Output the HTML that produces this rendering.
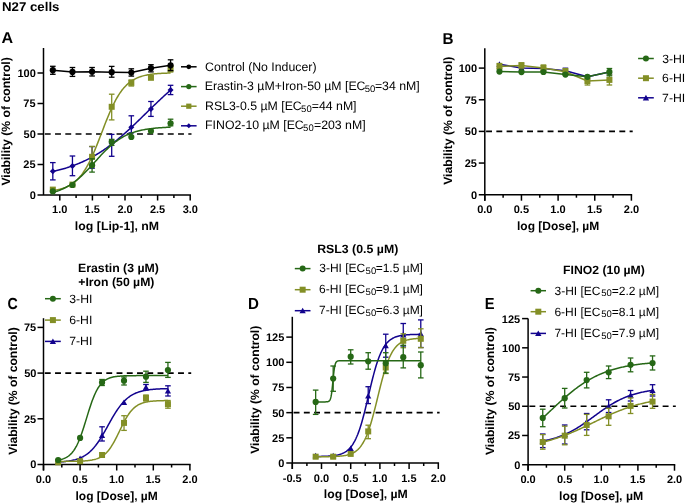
<!DOCTYPE html>
<html><head><meta charset="utf-8"><title>N27 cells</title>
<style>html,body{margin:0;padding:0;background:#fff;}body{width:685px;height:504px;overflow:hidden;font-family:"Liberation Sans",sans-serif;}svg{display:block;will-change:transform;}</style>
</head><body>
<svg width="685" height="504" viewBox="0 0 685 504" text-rendering="geometricPrecision" font-family="Liberation Sans, sans-serif">
<text x="1.94" y="10.7" font-size="12.7" font-weight="bold" textLength="57.51" lengthAdjust="spacingAndGlyphs" fill="#000">N27 cells</text>
<text x="1.5" y="43" font-size="15.8" font-weight="bold" textLength="11.64" lengthAdjust="spacingAndGlyphs" fill="#000">A</text>
<text x="442.61" y="44" font-size="15.8" font-weight="bold" textLength="11.01" lengthAdjust="spacingAndGlyphs" fill="#000">B</text>
<text x="7.43" y="309.4" font-size="16" font-weight="bold" textLength="10.25" lengthAdjust="spacingAndGlyphs" fill="#000">C</text>
<text x="248.02" y="309.4" font-size="16" font-weight="bold" textLength="10.92" lengthAdjust="spacingAndGlyphs" fill="#000">D</text>
<text x="484.65" y="309.4" font-size="16" font-weight="bold" textLength="9.8" lengthAdjust="spacingAndGlyphs" fill="#000">E</text>
<line x1="43.5" y1="48" x2="43.5" y2="195" stroke="#000000" stroke-width="1.5"/>
<line x1="37.5" y1="195" x2="190.95" y2="195" stroke="#000000" stroke-width="1.5"/>
<text x="29.63" y="198.91" font-size="11" font-weight="bold" fill="#000">0</text>
<line x1="37.5" y1="164.5" x2="43.5" y2="164.5" stroke="#000000" stroke-width="1.5"/>
<text x="23.36" y="168.41" font-size="11" font-weight="bold" fill="#000">25</text>
<line x1="37.5" y1="134" x2="43.5" y2="134" stroke="#000000" stroke-width="1.5"/>
<text x="23.53" y="137.91" font-size="11" font-weight="bold" fill="#000">50</text>
<line x1="37.5" y1="103.5" x2="43.5" y2="103.5" stroke="#000000" stroke-width="1.5"/>
<text x="23.36" y="107.41" font-size="11" font-weight="bold" fill="#000">75</text>
<line x1="37.5" y1="73" x2="43.5" y2="73" stroke="#000000" stroke-width="1.5"/>
<text x="17.42" y="76.91" font-size="11" font-weight="bold" fill="#000">100</text>
<line x1="59.8" y1="195" x2="59.8" y2="200.5" stroke="#000000" stroke-width="1.5"/>
<text x="52.02" y="213.4" font-size="11" font-weight="bold" fill="#000">1.0</text>
<line x1="92.4" y1="195" x2="92.4" y2="200.5" stroke="#000000" stroke-width="1.5"/>
<text x="84.53" y="213.4" font-size="11" font-weight="bold" fill="#000">1.5</text>
<line x1="125" y1="195" x2="125" y2="200.5" stroke="#000000" stroke-width="1.5"/>
<text x="117.38" y="213.4" font-size="11" font-weight="bold" fill="#000">2.0</text>
<line x1="157.6" y1="195" x2="157.6" y2="200.5" stroke="#000000" stroke-width="1.5"/>
<text x="149.9" y="213.4" font-size="11" font-weight="bold" fill="#000">2.5</text>
<line x1="190.2" y1="195" x2="190.2" y2="200.5" stroke="#000000" stroke-width="1.5"/>
<text x="182.64" y="213.4" font-size="11" font-weight="bold" fill="#000">3.0</text>
<line x1="76.1" y1="195" x2="76.1" y2="198" stroke="#000000" stroke-width="1.5"/>
<line x1="108.7" y1="195" x2="108.7" y2="198" stroke="#000000" stroke-width="1.5"/>
<line x1="141.3" y1="195" x2="141.3" y2="198" stroke="#000000" stroke-width="1.5"/>
<line x1="173.9" y1="195" x2="173.9" y2="198" stroke="#000000" stroke-width="1.5"/>
<text x="74.89" y="230.1" font-size="12" font-weight="bold" textLength="84.18" lengthAdjust="spacingAndGlyphs" fill="#000">log [Lip-1], nM</text>
<text transform="translate(9.8,185.62) rotate(-90)" font-size="12" font-weight="bold" textLength="128.4" lengthAdjust="spacingAndGlyphs" fill="#000">Viability (% of control)</text>
<line x1="44.8" y1="134" x2="191.5" y2="134" stroke="#000000" stroke-width="1.7" stroke-dasharray="5.9 4.35"/>
<line x1="52.82" y1="162.6" x2="52.82" y2="179.9" stroke="#12038e" stroke-width="1.3"/>
<line x1="50.02" y1="162.6" x2="55.62" y2="162.6" stroke="#12038e" stroke-width="1.3"/>
<line x1="50.02" y1="179.9" x2="55.62" y2="179.9" stroke="#12038e" stroke-width="1.3"/>
<line x1="72.45" y1="156" x2="72.45" y2="175.7" stroke="#12038e" stroke-width="1.3"/>
<line x1="69.65" y1="156" x2="75.25" y2="156" stroke="#12038e" stroke-width="1.3"/>
<line x1="69.65" y1="175.7" x2="75.25" y2="175.7" stroke="#12038e" stroke-width="1.3"/>
<line x1="92.07" y1="146.6" x2="92.07" y2="168.2" stroke="#12038e" stroke-width="1.3"/>
<line x1="89.27" y1="146.6" x2="94.87" y2="146.6" stroke="#12038e" stroke-width="1.3"/>
<line x1="89.27" y1="168.2" x2="94.87" y2="168.2" stroke="#12038e" stroke-width="1.3"/>
<line x1="111.7" y1="134.4" x2="111.7" y2="156.3" stroke="#12038e" stroke-width="1.3"/>
<line x1="108.9" y1="134.4" x2="114.5" y2="134.4" stroke="#12038e" stroke-width="1.3"/>
<line x1="108.9" y1="156.3" x2="114.5" y2="156.3" stroke="#12038e" stroke-width="1.3"/>
<line x1="131.32" y1="115.8" x2="131.32" y2="132.8" stroke="#12038e" stroke-width="1.3"/>
<line x1="128.52" y1="115.8" x2="134.12" y2="115.8" stroke="#12038e" stroke-width="1.3"/>
<line x1="128.52" y1="132.8" x2="134.12" y2="132.8" stroke="#12038e" stroke-width="1.3"/>
<line x1="150.95" y1="101.5" x2="150.95" y2="116.4" stroke="#12038e" stroke-width="1.3"/>
<line x1="148.15" y1="101.5" x2="153.75" y2="101.5" stroke="#12038e" stroke-width="1.3"/>
<line x1="148.15" y1="116.4" x2="153.75" y2="116.4" stroke="#12038e" stroke-width="1.3"/>
<line x1="170.57" y1="85.3" x2="170.57" y2="94.6" stroke="#12038e" stroke-width="1.3"/>
<line x1="167.77" y1="85.3" x2="173.37" y2="85.3" stroke="#12038e" stroke-width="1.3"/>
<line x1="167.77" y1="94.6" x2="173.37" y2="94.6" stroke="#12038e" stroke-width="1.3"/>
<polyline points="52.82,171.47 53.8,171.26 54.79,171.03 55.77,170.8 56.75,170.57 57.73,170.32 58.71,170.08 59.69,169.82 60.67,169.56 61.65,169.29 62.64,169.02 63.62,168.74 64.6,168.45 65.58,168.16 66.56,167.86 67.54,167.55 68.52,167.23 69.51,166.91 70.49,166.58 71.47,166.24 72.45,165.89 73.43,165.53 74.41,165.17 75.39,164.8 76.37,164.42 77.36,164.03 78.34,163.63 79.32,163.22 80.3,162.81 81.28,162.38 82.26,161.95 83.24,161.5 84.22,161.05 85.21,160.59 86.19,160.11 87.17,159.63 88.15,159.14 89.13,158.64 90.11,158.12 91.09,157.6 92.07,157.07 93.06,156.52 94.04,155.97 95.02,155.41 96,154.83 96.98,154.25 97.96,153.65 98.94,153.04 99.92,152.43 100.91,151.8 101.89,151.16 102.87,150.51 103.85,149.85 104.83,149.18 105.81,148.5 106.79,147.81 107.77,147.1 108.76,146.39 109.74,145.67 110.72,144.93 111.7,144.19 112.68,143.43 113.66,142.67 114.64,141.89 115.62,141.11 116.61,140.32 117.59,139.51 118.57,138.7 119.55,137.88 120.53,137.05 121.51,136.21 122.49,135.36 123.47,134.5 124.46,133.64 125.44,132.77 126.42,131.89 127.4,131 128.38,130.1 129.36,129.2 130.34,128.3 131.32,127.38 132.31,126.46 133.29,125.54 134.27,124.61 135.25,123.68 136.23,122.74 137.21,121.8 138.19,120.85 139.17,119.9 140.16,118.95 141.14,118 142.12,117.04 143.1,116.08 144.08,115.12 145.06,114.16 146.04,113.2 147.02,112.24 148.01,111.28 148.99,110.32 149.97,109.37 150.95,108.41 151.93,107.46 152.91,106.5 153.89,105.55 154.87,104.61 155.86,103.67 156.84,102.73 157.82,101.79 158.8,100.86 159.78,99.94 160.76,99.02 161.74,98.1 162.72,97.2 163.71,96.3 164.69,95.4 165.67,94.51 166.65,93.63 167.63,92.76 168.61,91.89 169.59,91.04 170.57,90.19" fill="none" stroke="#12038e" stroke-width="1.5" stroke-linejoin="round"/>
<path d="M52.82,168.2 L55.82,171.2 L52.82,174.2 L49.82,171.2 Z" fill="#12038e"/>
<path d="M72.45,163 L75.45,166 L72.45,169 L69.45,166 Z" fill="#12038e"/>
<path d="M92.07,154.8 L95.07,157.8 L92.07,160.8 L89.07,157.8 Z" fill="#12038e"/>
<path d="M111.7,140.5 L114.7,143.5 L111.7,146.5 L108.7,143.5 Z" fill="#12038e"/>
<path d="M131.32,124.2 L134.32,127.2 L131.32,130.2 L128.32,127.2 Z" fill="#12038e"/>
<path d="M150.95,105.9 L153.95,108.9 L150.95,111.9 L147.95,108.9 Z" fill="#12038e"/>
<path d="M170.57,87 L173.57,90 L170.57,93 L167.57,90 Z" fill="#12038e"/>
<line x1="92.07" y1="146.4" x2="92.07" y2="167" stroke="#838f26" stroke-width="1.3"/>
<line x1="89.27" y1="146.4" x2="94.87" y2="146.4" stroke="#838f26" stroke-width="1.3"/>
<line x1="89.27" y1="167" x2="94.87" y2="167" stroke="#838f26" stroke-width="1.3"/>
<line x1="111.7" y1="94.2" x2="111.7" y2="119.9" stroke="#838f26" stroke-width="1.3"/>
<line x1="108.9" y1="94.2" x2="114.5" y2="94.2" stroke="#838f26" stroke-width="1.3"/>
<line x1="108.9" y1="119.9" x2="114.5" y2="119.9" stroke="#838f26" stroke-width="1.3"/>
<line x1="131.32" y1="80" x2="131.32" y2="86" stroke="#838f26" stroke-width="1.3"/>
<line x1="128.52" y1="80" x2="134.12" y2="80" stroke="#838f26" stroke-width="1.3"/>
<line x1="128.52" y1="86" x2="134.12" y2="86" stroke="#838f26" stroke-width="1.3"/>
<line x1="170.57" y1="66" x2="170.57" y2="72" stroke="#838f26" stroke-width="1.3"/>
<line x1="167.77" y1="66" x2="173.37" y2="66" stroke="#838f26" stroke-width="1.3"/>
<line x1="167.77" y1="72" x2="173.37" y2="72" stroke="#838f26" stroke-width="1.3"/>
<polyline points="52.82,190.53 53.8,190.39 54.79,190.23 55.77,190.06 56.75,189.88 57.73,189.68 58.71,189.46 59.69,189.23 60.67,188.97 61.65,188.69 62.64,188.39 63.62,188.07 64.6,187.71 65.58,187.33 66.56,186.92 67.54,186.47 68.52,185.99 69.51,185.46 70.49,184.9 71.47,184.29 72.45,183.64 73.43,182.94 74.41,182.18 75.39,181.36 76.37,180.49 77.36,179.56 78.34,178.56 79.32,177.49 80.3,176.35 81.28,175.13 82.26,173.84 83.24,172.47 84.22,171.02 85.21,169.49 86.19,167.87 87.17,166.17 88.15,164.38 89.13,162.51 90.11,160.56 91.09,158.53 92.07,156.42 93.06,154.23 94.04,151.98 95.02,149.66 96,147.28 96.98,144.86 97.96,142.39 98.94,139.88 99.92,137.35 100.91,134.8 101.89,132.24 102.87,129.68 103.85,127.13 104.83,124.6 105.81,122.1 106.79,119.63 107.77,117.21 108.76,114.85 109.74,112.54 110.72,110.3 111.7,108.12 112.68,106.03 113.66,104.01 114.64,102.07 115.62,100.21 116.61,98.44 117.59,96.75 118.57,95.14 119.55,93.62 120.53,92.19 121.51,90.83 122.49,89.55 123.47,88.35 124.46,87.22 125.44,86.16 126.42,85.17 127.4,84.25 128.38,83.39 129.36,82.58 130.34,81.83 131.32,81.14 132.31,80.49 133.29,79.89 134.27,79.34 135.25,78.82 136.23,78.34 137.21,77.9 138.19,77.49 139.17,77.11 140.16,76.77 141.14,76.44 142.12,76.15 143.1,75.87 144.08,75.62 145.06,75.39 146.04,75.17 147.02,74.98 148.01,74.79 148.99,74.63 149.97,74.47 150.95,74.33 151.93,74.2 152.91,74.08 153.89,73.97 154.87,73.87 155.86,73.78 156.84,73.69 157.82,73.61 158.8,73.54 159.78,73.47 160.76,73.41 161.74,73.35 162.72,73.3 163.71,73.26 164.69,73.21 165.67,73.17 166.65,73.14 167.63,73.1 168.61,73.07 169.59,73.04 170.57,73.02" fill="none" stroke="#838f26" stroke-width="1.5" stroke-linejoin="round"/>
<rect x="49.82" y="186.6" width="6" height="6" fill="#838f26"/>
<rect x="69.45" y="181.6" width="6" height="6" fill="#838f26"/>
<rect x="89.07" y="153.8" width="6" height="6" fill="#838f26"/>
<rect x="108.7" y="103.8" width="6" height="6" fill="#838f26"/>
<rect x="128.32" y="79.8" width="6" height="6" fill="#838f26"/>
<rect x="147.95" y="74.8" width="6" height="6" fill="#838f26"/>
<rect x="167.57" y="65.8" width="6" height="6" fill="#838f26"/>
<line x1="92.07" y1="158.8" x2="92.07" y2="172.1" stroke="#266816" stroke-width="1.3"/>
<line x1="89.27" y1="158.8" x2="94.87" y2="158.8" stroke="#266816" stroke-width="1.3"/>
<line x1="89.27" y1="172.1" x2="94.87" y2="172.1" stroke="#266816" stroke-width="1.3"/>
<line x1="111.7" y1="139.4" x2="111.7" y2="145.4" stroke="#266816" stroke-width="1.3"/>
<line x1="108.9" y1="139.4" x2="114.5" y2="139.4" stroke="#266816" stroke-width="1.3"/>
<line x1="108.9" y1="145.4" x2="114.5" y2="145.4" stroke="#266816" stroke-width="1.3"/>
<line x1="170.57" y1="119.2" x2="170.57" y2="125.8" stroke="#266816" stroke-width="1.3"/>
<line x1="167.77" y1="119.2" x2="173.37" y2="119.2" stroke="#266816" stroke-width="1.3"/>
<line x1="167.77" y1="125.8" x2="173.37" y2="125.8" stroke="#266816" stroke-width="1.3"/>
<polyline points="52.82,192.49 53.8,192.21 54.79,191.92 55.77,191.61 56.75,191.29 57.73,190.94 58.71,190.59 59.69,190.21 60.67,189.81 61.65,189.4 62.64,188.96 63.62,188.5 64.6,188.02 65.58,187.52 66.56,186.99 67.54,186.44 68.52,185.87 69.51,185.28 70.49,184.65 71.47,184.01 72.45,183.33 73.43,182.64 74.41,181.91 75.39,181.16 76.37,180.39 77.36,179.59 78.34,178.76 79.32,177.91 80.3,177.04 81.28,176.14 82.26,175.22 83.24,174.28 84.22,173.32 85.21,172.34 86.19,171.34 87.17,170.32 88.15,169.29 89.13,168.25 90.11,167.19 91.09,166.12 92.07,165.05 93.06,163.97 94.04,162.89 95.02,161.8 96,160.72 96.98,159.63 97.96,158.55 98.94,157.48 99.92,156.42 100.91,155.36 101.89,154.32 102.87,153.29 103.85,152.28 104.83,151.28 105.81,150.3 106.79,149.34 107.77,148.41 108.76,147.49 109.74,146.6 110.72,145.72 111.7,144.88 112.68,144.06 113.66,143.26 114.64,142.49 115.62,141.74 116.61,141.03 117.59,140.33 118.57,139.66 119.55,139.02 120.53,138.4 121.51,137.81 122.49,137.24 123.47,136.7 124.46,136.17 125.44,135.68 126.42,135.2 127.4,134.74 128.38,134.31 129.36,133.9 130.34,133.5 131.32,133.13 132.31,132.77 133.29,132.43 134.27,132.11 135.25,131.81 136.23,131.52 137.21,131.24 138.19,130.98 139.17,130.73 140.16,130.5 141.14,130.28 142.12,130.07 143.1,129.87 144.08,129.68 145.06,129.5 146.04,129.34 147.02,129.18 148.01,129.03 148.99,128.89 149.97,128.75 150.95,128.63 151.93,128.51 152.91,128.4 153.89,128.29 154.87,128.19 155.86,128.1 156.84,128.01 157.82,127.92 158.8,127.85 159.78,127.77 160.76,127.7 161.74,127.64 162.72,127.57 163.71,127.52 164.69,127.46 165.67,127.41 166.65,127.36 167.63,127.31 168.61,127.27 169.59,127.23 170.57,127.19" fill="none" stroke="#266816" stroke-width="1.5" stroke-linejoin="round"/>
<circle cx="52.82" cy="191.4" r="3.1" fill="#266816"/>
<circle cx="72.45" cy="185" r="3.1" fill="#266816"/>
<circle cx="92.07" cy="165.2" r="3.1" fill="#266816"/>
<circle cx="111.7" cy="141.8" r="3.1" fill="#266816"/>
<circle cx="131.32" cy="137" r="3.1" fill="#266816"/>
<circle cx="150.95" cy="131" r="3.1" fill="#266816"/>
<circle cx="170.57" cy="123.3" r="3.1" fill="#266816"/>
<line x1="52.82" y1="66.3" x2="52.82" y2="74.3" stroke="#000000" stroke-width="1.3"/>
<line x1="50.02" y1="66.3" x2="55.62" y2="66.3" stroke="#000000" stroke-width="1.3"/>
<line x1="50.02" y1="74.3" x2="55.62" y2="74.3" stroke="#000000" stroke-width="1.3"/>
<line x1="72.45" y1="67.5" x2="72.45" y2="76.4" stroke="#000000" stroke-width="1.3"/>
<line x1="69.65" y1="67.5" x2="75.25" y2="67.5" stroke="#000000" stroke-width="1.3"/>
<line x1="69.65" y1="76.4" x2="75.25" y2="76.4" stroke="#000000" stroke-width="1.3"/>
<line x1="92.07" y1="67.5" x2="92.07" y2="76" stroke="#000000" stroke-width="1.3"/>
<line x1="89.27" y1="67.5" x2="94.87" y2="67.5" stroke="#000000" stroke-width="1.3"/>
<line x1="89.27" y1="76" x2="94.87" y2="76" stroke="#000000" stroke-width="1.3"/>
<line x1="111.7" y1="66.4" x2="111.7" y2="77.2" stroke="#000000" stroke-width="1.3"/>
<line x1="108.9" y1="66.4" x2="114.5" y2="66.4" stroke="#000000" stroke-width="1.3"/>
<line x1="108.9" y1="77.2" x2="114.5" y2="77.2" stroke="#000000" stroke-width="1.3"/>
<line x1="131.32" y1="68.8" x2="131.32" y2="76.1" stroke="#000000" stroke-width="1.3"/>
<line x1="128.52" y1="68.8" x2="134.12" y2="68.8" stroke="#000000" stroke-width="1.3"/>
<line x1="128.52" y1="76.1" x2="134.12" y2="76.1" stroke="#000000" stroke-width="1.3"/>
<line x1="150.95" y1="64.7" x2="150.95" y2="71.9" stroke="#000000" stroke-width="1.3"/>
<line x1="148.15" y1="64.7" x2="153.75" y2="64.7" stroke="#000000" stroke-width="1.3"/>
<line x1="148.15" y1="71.9" x2="153.75" y2="71.9" stroke="#000000" stroke-width="1.3"/>
<line x1="170.57" y1="59.8" x2="170.57" y2="70.6" stroke="#000000" stroke-width="1.3"/>
<line x1="167.77" y1="59.8" x2="173.37" y2="59.8" stroke="#000000" stroke-width="1.3"/>
<line x1="167.77" y1="70.6" x2="173.37" y2="70.6" stroke="#000000" stroke-width="1.3"/>
<polyline points="52.82,70.2 72.45,71.9 92.07,71.7 111.7,72.2 131.32,72.6 150.95,68.2 170.57,65.3" fill="none" stroke="#000000" stroke-width="1.5" stroke-linejoin="round"/>
<circle cx="52.82" cy="70.2" r="3.1" fill="#000000"/>
<circle cx="72.45" cy="71.9" r="3.1" fill="#000000"/>
<circle cx="92.07" cy="71.7" r="3.1" fill="#000000"/>
<circle cx="111.7" cy="72.2" r="3.1" fill="#000000"/>
<circle cx="131.32" cy="72.6" r="3.1" fill="#000000"/>
<circle cx="150.95" cy="68.2" r="3.1" fill="#000000"/>
<circle cx="170.57" cy="65.3" r="3.1" fill="#000000"/>
<line x1="181" y1="66.8" x2="196.6" y2="66.8" stroke="#000000" stroke-width="1.5"/>
<circle cx="188.8" cy="66.8" r="2.4" fill="#000000"/>
<line x1="181" y1="86.6" x2="196.6" y2="86.6" stroke="#266816" stroke-width="1.5"/>
<circle cx="188.8" cy="86.6" r="2.6" fill="#266816"/>
<line x1="181" y1="106.2" x2="196.6" y2="106.2" stroke="#838f26" stroke-width="1.5"/>
<rect x="186.2" y="103.6" width="5.2" height="5.2" fill="#838f26"/>
<line x1="181" y1="125.8" x2="196.6" y2="125.8" stroke="#12038e" stroke-width="1.5"/>
<path d="M188.8,123.3 L191.3,125.8 L188.8,128.3 L186.3,125.8 Z" fill="#12038e"/>
<text x="205.08" y="70.7" font-size="12.3" fill="#000">Control (No Inducer)</text>
<text x="204.72" y="90.2" font-size="12.3" fill="#000">Erastin-3 µM+Iron-50 µM [EC</text>
<text x="364.72" y="92.4" font-size="9.5" fill="#000">50</text>
<text x="374.88" y="90.2" font-size="12.3" fill="#000">=34 nM]</text>
<text x="205.12" y="109.7" font-size="12.3" fill="#000">RSL3-0.5 µM [EC</text>
<text x="301.12" y="111.9" font-size="9.5" fill="#000">50</text>
<text x="311.78" y="109.7" font-size="12.3" fill="#000">=44 nM]</text>
<text x="205.12" y="128.8" font-size="12.3" fill="#000">FINO2-10 µM [EC</text>
<text x="303.12" y="131" font-size="9.5" fill="#000">50</text>
<text x="313.99" y="128.8" font-size="12.3" fill="#000">=203 nM]</text>
<line x1="484.8" y1="48.2" x2="484.8" y2="200.7" stroke="#000000" stroke-width="1.5"/>
<line x1="478.8" y1="194.7" x2="632.15" y2="194.7" stroke="#000000" stroke-width="1.5"/>
<text x="470.94" y="198.6" font-size="11" font-weight="bold" fill="#000">0</text>
<line x1="478.8" y1="163.05" x2="484.8" y2="163.05" stroke="#000000" stroke-width="1.5"/>
<text x="464.67" y="166.95" font-size="11" font-weight="bold" fill="#000">25</text>
<line x1="478.8" y1="131.4" x2="484.8" y2="131.4" stroke="#000000" stroke-width="1.5"/>
<text x="464.83" y="135.3" font-size="11" font-weight="bold" fill="#000">50</text>
<line x1="478.8" y1="99.75" x2="484.8" y2="99.75" stroke="#000000" stroke-width="1.5"/>
<text x="464.67" y="103.65" font-size="11" font-weight="bold" fill="#000">75</text>
<line x1="478.8" y1="68.1" x2="484.8" y2="68.1" stroke="#000000" stroke-width="1.5"/>
<text x="458.73" y="72" font-size="11" font-weight="bold" fill="#000">100</text>
<line x1="484.8" y1="194.7" x2="484.8" y2="200.7" stroke="#000000" stroke-width="1.5"/>
<text x="477.16" y="213.2" font-size="11" font-weight="bold" fill="#000">0.0</text>
<line x1="521.45" y1="194.7" x2="521.45" y2="200.7" stroke="#000000" stroke-width="1.5"/>
<text x="513.72" y="213.2" font-size="11" font-weight="bold" fill="#000">0.5</text>
<line x1="558.1" y1="194.7" x2="558.1" y2="200.7" stroke="#000000" stroke-width="1.5"/>
<text x="550.32" y="213.2" font-size="11" font-weight="bold" fill="#000">1.0</text>
<line x1="594.75" y1="194.7" x2="594.75" y2="200.7" stroke="#000000" stroke-width="1.5"/>
<text x="586.88" y="213.2" font-size="11" font-weight="bold" fill="#000">1.5</text>
<line x1="631.4" y1="194.7" x2="631.4" y2="200.7" stroke="#000000" stroke-width="1.5"/>
<text x="623.78" y="213.2" font-size="11" font-weight="bold" fill="#000">2.0</text>
<line x1="503.12" y1="194.7" x2="503.12" y2="197.7" stroke="#000000" stroke-width="1.5"/>
<line x1="539.77" y1="194.7" x2="539.77" y2="197.7" stroke="#000000" stroke-width="1.5"/>
<line x1="576.42" y1="194.7" x2="576.42" y2="197.7" stroke="#000000" stroke-width="1.5"/>
<line x1="613.08" y1="194.7" x2="613.08" y2="197.7" stroke="#000000" stroke-width="1.5"/>
<text x="516.97" y="230.1" font-size="12" font-weight="bold" fill="#000">log [Dose], µM</text>
<text transform="translate(451.7,184.82) rotate(-90)" font-size="12" font-weight="bold" textLength="128.2" lengthAdjust="spacingAndGlyphs" fill="#000">Viability (% of control)</text>
<line x1="486.1" y1="131.4" x2="632.7" y2="131.4" stroke="#000000" stroke-width="1.7" stroke-dasharray="5.9 4.35"/>
<line x1="565.43" y1="68.2" x2="565.43" y2="73.4" stroke="#12038e" stroke-width="1.3"/>
<line x1="562.63" y1="68.2" x2="568.23" y2="68.2" stroke="#12038e" stroke-width="1.3"/>
<line x1="562.63" y1="73.4" x2="568.23" y2="73.4" stroke="#12038e" stroke-width="1.3"/>
<polyline points="499.46,64.2 521.45,68 543.44,68.6 565.43,70.8 587.42,76.7 609.41,72" fill="none" stroke="#12038e" stroke-width="1.5" stroke-linejoin="round"/>
<path d="M499.46,61.24 L502.56,66.82 L496.36,66.82 Z" fill="#12038e"/>
<path d="M521.45,65.04 L524.55,70.62 L518.35,70.62 Z" fill="#12038e"/>
<path d="M543.44,65.64 L546.54,71.22 L540.34,71.22 Z" fill="#12038e"/>
<path d="M565.43,67.84 L568.53,73.42 L562.33,73.42 Z" fill="#12038e"/>
<path d="M587.42,73.74 L590.52,79.32 L584.32,79.32 Z" fill="#12038e"/>
<path d="M609.41,69.04 L612.51,74.62 L606.31,74.62 Z" fill="#12038e"/>
<line x1="499.46" y1="63.5" x2="499.46" y2="69" stroke="#838f26" stroke-width="1.3"/>
<line x1="496.66" y1="63.5" x2="502.26" y2="63.5" stroke="#838f26" stroke-width="1.3"/>
<line x1="496.66" y1="69" x2="502.26" y2="69" stroke="#838f26" stroke-width="1.3"/>
<line x1="521.45" y1="62.8" x2="521.45" y2="68" stroke="#838f26" stroke-width="1.3"/>
<line x1="518.65" y1="62.8" x2="524.25" y2="62.8" stroke="#838f26" stroke-width="1.3"/>
<line x1="518.65" y1="68" x2="524.25" y2="68" stroke="#838f26" stroke-width="1.3"/>
<line x1="543.44" y1="65" x2="543.44" y2="70.8" stroke="#838f26" stroke-width="1.3"/>
<line x1="540.64" y1="65" x2="546.24" y2="65" stroke="#838f26" stroke-width="1.3"/>
<line x1="540.64" y1="70.8" x2="546.24" y2="70.8" stroke="#838f26" stroke-width="1.3"/>
<line x1="565.43" y1="68.6" x2="565.43" y2="75" stroke="#838f26" stroke-width="1.3"/>
<line x1="562.63" y1="68.6" x2="568.23" y2="68.6" stroke="#838f26" stroke-width="1.3"/>
<line x1="562.63" y1="75" x2="568.23" y2="75" stroke="#838f26" stroke-width="1.3"/>
<line x1="587.42" y1="77" x2="587.42" y2="85" stroke="#838f26" stroke-width="1.3"/>
<line x1="584.62" y1="77" x2="590.22" y2="77" stroke="#838f26" stroke-width="1.3"/>
<line x1="584.62" y1="85" x2="590.22" y2="85" stroke="#838f26" stroke-width="1.3"/>
<line x1="609.41" y1="75" x2="609.41" y2="85" stroke="#838f26" stroke-width="1.3"/>
<line x1="606.61" y1="75" x2="612.21" y2="75" stroke="#838f26" stroke-width="1.3"/>
<line x1="606.61" y1="85" x2="612.21" y2="85" stroke="#838f26" stroke-width="1.3"/>
<polyline points="499.46,66.4 521.45,65.4 543.44,67.9 565.43,71.8 587.42,81 609.41,79.9" fill="none" stroke="#838f26" stroke-width="1.5" stroke-linejoin="round"/>
<rect x="496.46" y="63.4" width="6" height="6" fill="#838f26"/>
<rect x="518.45" y="62.4" width="6" height="6" fill="#838f26"/>
<rect x="540.44" y="64.9" width="6" height="6" fill="#838f26"/>
<rect x="562.43" y="68.8" width="6" height="6" fill="#838f26"/>
<rect x="584.42" y="78" width="6" height="6" fill="#838f26"/>
<rect x="606.41" y="76.9" width="6" height="6" fill="#838f26"/>
<line x1="609.41" y1="68.5" x2="609.41" y2="75.8" stroke="#266816" stroke-width="1.3"/>
<line x1="606.61" y1="68.5" x2="612.21" y2="68.5" stroke="#266816" stroke-width="1.3"/>
<line x1="606.61" y1="75.8" x2="612.21" y2="75.8" stroke="#266816" stroke-width="1.3"/>
<polyline points="499.46,71.6 521.45,72.1 543.44,72 565.43,74.6 587.42,76.8 609.41,71.9" fill="none" stroke="#266816" stroke-width="1.5" stroke-linejoin="round"/>
<circle cx="499.46" cy="71.6" r="3.1" fill="#266816"/>
<circle cx="521.45" cy="72.1" r="3.1" fill="#266816"/>
<circle cx="543.44" cy="72" r="3.1" fill="#266816"/>
<circle cx="565.43" cy="74.6" r="3.1" fill="#266816"/>
<circle cx="587.42" cy="76.8" r="3.1" fill="#266816"/>
<circle cx="609.41" cy="71.9" r="3.1" fill="#266816"/>
<line x1="638.1" y1="58.5" x2="653.8" y2="58.5" stroke="#266816" stroke-width="1.5"/>
<circle cx="645.95" cy="58.5" r="3" fill="#266816"/>
<line x1="638.1" y1="78.2" x2="653.8" y2="78.2" stroke="#838f26" stroke-width="1.5"/>
<rect x="642.95" y="75.2" width="6" height="6" fill="#838f26"/>
<line x1="638.1" y1="97.8" x2="653.8" y2="97.8" stroke="#12038e" stroke-width="1.5"/>
<path d="M645.95,94.79 L649.1,100.46 L642.8,100.46 Z" fill="#12038e"/>
<text x="662.21" y="62.6" font-size="12" textLength="23.04" lengthAdjust="spacingAndGlyphs" fill="#000">3-HI</text>
<text x="662.09" y="82.3" font-size="12" textLength="23.17" lengthAdjust="spacingAndGlyphs" fill="#000">6-HI</text>
<text x="662.09" y="101.9" font-size="12" textLength="23.17" lengthAdjust="spacingAndGlyphs" fill="#000">7-HI</text>
<line x1="43.5" y1="318.2" x2="43.5" y2="470.5" stroke="#000000" stroke-width="1.5"/>
<line x1="37.5" y1="464.5" x2="190.65" y2="464.5" stroke="#000000" stroke-width="1.5"/>
<text x="30.23" y="468.4" font-size="11" font-weight="bold" fill="#000">0</text>
<line x1="37.5" y1="418.8" x2="43.5" y2="418.8" stroke="#000000" stroke-width="1.5"/>
<text x="23.96" y="422.7" font-size="11" font-weight="bold" fill="#000">25</text>
<line x1="37.5" y1="373.1" x2="43.5" y2="373.1" stroke="#000000" stroke-width="1.5"/>
<text x="24.13" y="377" font-size="11" font-weight="bold" fill="#000">50</text>
<line x1="37.5" y1="327.4" x2="43.5" y2="327.4" stroke="#000000" stroke-width="1.5"/>
<text x="23.96" y="331.3" font-size="11" font-weight="bold" fill="#000">75</text>
<line x1="43.5" y1="464.5" x2="43.5" y2="470.5" stroke="#000000" stroke-width="1.5"/>
<text x="35.86" y="483" font-size="11" font-weight="bold" fill="#000">0.0</text>
<line x1="80.1" y1="464.5" x2="80.1" y2="470.5" stroke="#000000" stroke-width="1.5"/>
<text x="72.37" y="483" font-size="11" font-weight="bold" fill="#000">0.5</text>
<line x1="116.7" y1="464.5" x2="116.7" y2="470.5" stroke="#000000" stroke-width="1.5"/>
<text x="108.92" y="483" font-size="11" font-weight="bold" fill="#000">1.0</text>
<line x1="153.3" y1="464.5" x2="153.3" y2="470.5" stroke="#000000" stroke-width="1.5"/>
<text x="145.44" y="483" font-size="11" font-weight="bold" fill="#000">1.5</text>
<line x1="189.9" y1="464.5" x2="189.9" y2="470.5" stroke="#000000" stroke-width="1.5"/>
<text x="182.28" y="483" font-size="11" font-weight="bold" fill="#000">2.0</text>
<line x1="61.8" y1="464.5" x2="61.8" y2="467.5" stroke="#000000" stroke-width="1.5"/>
<line x1="98.4" y1="464.5" x2="98.4" y2="467.5" stroke="#000000" stroke-width="1.5"/>
<line x1="135" y1="464.5" x2="135" y2="467.5" stroke="#000000" stroke-width="1.5"/>
<line x1="171.6" y1="464.5" x2="171.6" y2="467.5" stroke="#000000" stroke-width="1.5"/>
<text x="75.47" y="500" font-size="12" font-weight="bold" fill="#000">log [Dose], µM</text>
<text transform="translate(16.5,454.72) rotate(-90)" font-size="12" font-weight="bold" textLength="127.4" lengthAdjust="spacingAndGlyphs" fill="#000">Viability (% of control)</text>
<text x="78" y="271.8" font-size="12" font-weight="bold" textLength="80.88" lengthAdjust="spacingAndGlyphs" fill="#000">Erastin (3 µM)</text>
<text x="78.31" y="285.7" font-size="12" font-weight="bold" textLength="76.15" lengthAdjust="spacingAndGlyphs" fill="#000">+Iron (50 µM)</text>
<line x1="44.8" y1="373.1" x2="191.2" y2="373.1" stroke="#000000" stroke-width="1.7" stroke-dasharray="5.9 4.35"/>
<line x1="102.06" y1="426.8" x2="102.06" y2="441" stroke="#12038e" stroke-width="1.3"/>
<line x1="99.26" y1="426.8" x2="104.86" y2="426.8" stroke="#12038e" stroke-width="1.3"/>
<line x1="99.26" y1="441" x2="104.86" y2="441" stroke="#12038e" stroke-width="1.3"/>
<line x1="145.98" y1="384.5" x2="145.98" y2="390" stroke="#12038e" stroke-width="1.3"/>
<line x1="143.18" y1="384.5" x2="148.78" y2="384.5" stroke="#12038e" stroke-width="1.3"/>
<line x1="143.18" y1="390" x2="148.78" y2="390" stroke="#12038e" stroke-width="1.3"/>
<line x1="167.94" y1="385.8" x2="167.94" y2="396" stroke="#12038e" stroke-width="1.3"/>
<line x1="165.14" y1="385.8" x2="170.74" y2="385.8" stroke="#12038e" stroke-width="1.3"/>
<line x1="165.14" y1="396" x2="170.74" y2="396" stroke="#12038e" stroke-width="1.3"/>
<polyline points="58.14,462.06 59.05,462.01 59.97,461.95 60.89,461.89 61.8,461.82 62.72,461.74 63.63,461.66 64.55,461.57 65.46,461.47 66.38,461.36 67.29,461.25 68.2,461.12 69.12,460.98 70.03,460.83 70.95,460.67 71.87,460.49 72.78,460.3 73.69,460.09 74.61,459.86 75.53,459.61 76.44,459.34 77.36,459.05 78.27,458.73 79.19,458.39 80.1,458.02 81.02,457.62 81.93,457.18 82.84,456.72 83.76,456.22 84.68,455.67 85.59,455.09 86.5,454.47 87.42,453.8 88.34,453.08 89.25,452.32 90.16,451.5 91.08,450.63 92,449.71 92.91,448.74 93.83,447.7 94.74,446.61 95.66,445.47 96.57,444.27 97.49,443.01 98.4,441.7 99.31,440.34 100.23,438.93 101.15,437.47 102.06,435.97 102.97,434.44 103.89,432.87 104.8,431.27 105.72,429.65 106.64,428.01 107.55,426.37 108.47,424.72 109.38,423.07 110.3,421.44 111.21,419.82 112.12,418.22 113.04,416.65 113.95,415.11 114.87,413.61 115.79,412.16 116.7,410.74 117.61,409.38 118.53,408.07 119.45,406.82 120.36,405.61 121.28,404.47 122.19,403.38 123.1,402.34 124.02,401.37 124.94,400.44 125.85,399.58 126.77,398.76 127.68,397.99 128.6,397.28 129.51,396.61 130.43,395.98 131.34,395.4 132.25,394.86 133.17,394.35 134.09,393.89 135,393.45 135.92,393.05 136.83,392.68 137.75,392.34 138.66,392.02 139.57,391.73 140.49,391.46 141.41,391.21 142.32,390.98 143.24,390.77 144.15,390.58 145.06,390.4 145.98,390.24 146.89,390.08 147.81,389.95 148.73,389.82 149.64,389.7 150.56,389.6 151.47,389.5 152.38,389.41 153.3,389.32 154.22,389.25 155.13,389.18 156.05,389.12 156.96,389.06 157.88,389 158.79,388.95 159.7,388.91 160.62,388.87 161.54,388.83 162.45,388.8 163.37,388.76 164.28,388.74 165.19,388.71 166.11,388.69 167.03,388.66 167.94,388.64" fill="none" stroke="#12038e" stroke-width="1.5" stroke-linejoin="round"/>
<path d="M58.14,458.84 L61.24,464.42 L55.04,464.42 Z" fill="#12038e"/>
<path d="M80.1,455.54 L83.2,461.12 L77,461.12 Z" fill="#12038e"/>
<path d="M102.06,432.54 L105.16,438.12 L98.96,438.12 Z" fill="#12038e"/>
<path d="M124.02,399.44 L127.12,405.02 L120.92,405.02 Z" fill="#12038e"/>
<path d="M145.98,384.24 L149.08,389.82 L142.88,389.82 Z" fill="#12038e"/>
<path d="M167.94,387.94 L171.04,393.52 L164.84,393.52 Z" fill="#12038e"/>
<line x1="124.02" y1="415.7" x2="124.02" y2="430.4" stroke="#838f26" stroke-width="1.3"/>
<line x1="121.22" y1="415.7" x2="126.82" y2="415.7" stroke="#838f26" stroke-width="1.3"/>
<line x1="121.22" y1="430.4" x2="126.82" y2="430.4" stroke="#838f26" stroke-width="1.3"/>
<line x1="145.98" y1="395" x2="145.98" y2="401" stroke="#838f26" stroke-width="1.3"/>
<line x1="143.18" y1="395" x2="148.78" y2="395" stroke="#838f26" stroke-width="1.3"/>
<line x1="143.18" y1="401" x2="148.78" y2="401" stroke="#838f26" stroke-width="1.3"/>
<line x1="167.94" y1="400.5" x2="167.94" y2="408.2" stroke="#838f26" stroke-width="1.3"/>
<line x1="165.14" y1="400.5" x2="170.74" y2="400.5" stroke="#838f26" stroke-width="1.3"/>
<line x1="165.14" y1="408.2" x2="170.74" y2="408.2" stroke="#838f26" stroke-width="1.3"/>
<polyline points="58.14,461.4 59.05,461.4 59.97,461.4 60.89,461.39 61.8,461.39 62.72,461.39 63.63,461.38 64.55,461.38 65.46,461.38 66.38,461.37 67.29,461.37 68.2,461.36 69.12,461.35 70.03,461.34 70.95,461.33 71.87,461.32 72.78,461.31 73.69,461.3 74.61,461.28 75.53,461.26 76.44,461.24 77.36,461.22 78.27,461.2 79.19,461.17 80.1,461.13 81.02,461.1 81.93,461.05 82.84,461.01 83.76,460.95 84.68,460.89 85.59,460.82 86.5,460.75 87.42,460.66 88.34,460.56 89.25,460.45 90.16,460.32 91.08,460.18 92,460.02 92.91,459.84 93.83,459.64 94.74,459.41 95.66,459.16 96.57,458.87 97.49,458.55 98.4,458.19 99.31,457.78 100.23,457.33 101.15,456.83 102.06,456.28 102.97,455.66 103.89,454.98 104.8,454.23 105.72,453.4 106.64,452.49 107.55,451.5 108.47,450.42 109.38,449.25 110.3,448 111.21,446.65 112.12,445.21 113.04,443.69 113.95,442.08 114.87,440.4 115.79,438.66 116.7,436.86 117.61,435.01 118.53,433.13 119.45,431.24 120.36,429.34 121.28,427.46 122.19,425.6 123.1,423.79 124.02,422.02 124.94,420.32 125.85,418.69 126.77,417.14 127.68,415.68 128.6,414.3 129.51,413.02 130.43,411.82 131.34,410.72 132.25,409.7 133.17,408.77 134.09,407.91 135,407.14 135.92,406.43 136.83,405.8 137.75,405.22 138.66,404.7 139.57,404.24 140.49,403.82 141.41,403.45 142.32,403.12 143.24,402.82 144.15,402.55 145.06,402.32 145.98,402.11 146.89,401.92 147.81,401.75 148.73,401.61 149.64,401.48 150.56,401.36 151.47,401.26 152.38,401.17 153.3,401.09 154.22,401.02 155.13,400.95 156.05,400.9 156.96,400.85 157.88,400.8 158.79,400.77 159.7,400.73 160.62,400.7 161.54,400.67 162.45,400.65 163.37,400.63 164.28,400.61 165.19,400.6 166.11,400.58 167.03,400.57 167.94,400.56" fill="none" stroke="#838f26" stroke-width="1.5" stroke-linejoin="round"/>
<rect x="55.14" y="459.3" width="6" height="6" fill="#838f26"/>
<rect x="77.1" y="458.2" width="6" height="6" fill="#838f26"/>
<rect x="99.06" y="452" width="6" height="6" fill="#838f26"/>
<rect x="121.02" y="419.9" width="6" height="6" fill="#838f26"/>
<rect x="142.98" y="395" width="6" height="6" fill="#838f26"/>
<rect x="164.94" y="401.1" width="6" height="6" fill="#838f26"/>
<line x1="102.06" y1="379.5" x2="102.06" y2="385.5" stroke="#266816" stroke-width="1.3"/>
<line x1="99.26" y1="379.5" x2="104.86" y2="379.5" stroke="#266816" stroke-width="1.3"/>
<line x1="99.26" y1="385.5" x2="104.86" y2="385.5" stroke="#266816" stroke-width="1.3"/>
<line x1="124.02" y1="377" x2="124.02" y2="385" stroke="#266816" stroke-width="1.3"/>
<line x1="121.22" y1="377" x2="126.82" y2="377" stroke="#266816" stroke-width="1.3"/>
<line x1="121.22" y1="385" x2="126.82" y2="385" stroke="#266816" stroke-width="1.3"/>
<line x1="145.98" y1="371.2" x2="145.98" y2="382.4" stroke="#266816" stroke-width="1.3"/>
<line x1="143.18" y1="371.2" x2="148.78" y2="371.2" stroke="#266816" stroke-width="1.3"/>
<line x1="143.18" y1="382.4" x2="148.78" y2="382.4" stroke="#266816" stroke-width="1.3"/>
<line x1="167.94" y1="362.4" x2="167.94" y2="377.4" stroke="#266816" stroke-width="1.3"/>
<line x1="165.14" y1="362.4" x2="170.74" y2="362.4" stroke="#266816" stroke-width="1.3"/>
<line x1="165.14" y1="377.4" x2="170.74" y2="377.4" stroke="#266816" stroke-width="1.3"/>
<polyline points="58.14,460.04 59.05,459.88 59.97,459.69 60.89,459.48 61.8,459.24 62.72,458.96 63.63,458.64 64.55,458.28 65.46,457.87 66.38,457.39 67.29,456.86 68.2,456.25 69.12,455.56 70.03,454.79 70.95,453.91 71.87,452.93 72.78,451.83 73.69,450.6 74.61,449.24 75.53,447.73 76.44,446.06 77.36,444.24 78.27,442.26 79.19,440.12 80.1,437.82 81.02,435.36 81.93,432.77 82.84,430.05 83.76,427.23 84.68,424.32 85.59,421.36 86.5,418.36 87.42,415.37 88.34,412.4 89.25,409.5 90.16,406.67 91.08,403.95 92,401.36 92.91,398.91 93.83,396.6 94.74,394.46 95.66,392.48 96.57,390.66 97.49,389 98.4,387.48 99.31,386.12 100.23,384.89 101.15,383.79 102.06,382.81 102.97,381.93 103.89,381.16 104.8,380.47 105.72,379.86 106.64,379.33 107.55,378.86 108.47,378.44 109.38,378.08 110.3,377.76 111.21,377.48 112.12,377.24 113.04,377.03 113.95,376.84 114.87,376.68 115.79,376.54 116.7,376.41 117.61,376.31 118.53,376.21 119.45,376.13 120.36,376.06 121.28,376 122.19,375.94 123.1,375.9 124.02,375.86 124.94,375.82 125.85,375.79 126.77,375.76 127.68,375.74 128.6,375.72 129.51,375.7 130.43,375.69 131.34,375.67 132.25,375.66 133.17,375.65 134.09,375.64 135,375.63 135.92,375.63 136.83,375.62 137.75,375.62 138.66,375.61 139.57,375.61 140.49,375.61 141.41,375.6 142.32,375.6 143.24,375.6 144.15,375.6 145.06,375.59 145.98,375.59 146.89,375.59 147.81,375.59 148.73,375.59 149.64,375.59 150.56,375.59 151.47,375.59 152.38,375.59 153.3,375.59 154.22,375.59 155.13,375.59 156.05,375.59 156.96,375.59 157.88,375.59 158.79,375.59 159.7,375.59 160.62,375.59 161.54,375.58 162.45,375.58 163.37,375.58 164.28,375.58 165.19,375.58 166.11,375.58 167.03,375.58 167.94,375.58" fill="none" stroke="#266816" stroke-width="1.5" stroke-linejoin="round"/>
<circle cx="58.14" cy="460" r="3.1" fill="#266816"/>
<circle cx="80.1" cy="437.9" r="3.1" fill="#266816"/>
<circle cx="102.06" cy="382.4" r="3.1" fill="#266816"/>
<circle cx="124.02" cy="380.7" r="3.1" fill="#266816"/>
<circle cx="145.98" cy="376.7" r="3.1" fill="#266816"/>
<circle cx="167.94" cy="370" r="3.1" fill="#266816"/>
<line x1="45" y1="298.7" x2="60.8" y2="298.7" stroke="#266816" stroke-width="1.5"/>
<circle cx="52.9" cy="298.7" r="3" fill="#266816"/>
<line x1="45" y1="320.1" x2="60.8" y2="320.1" stroke="#838f26" stroke-width="1.5"/>
<rect x="49.9" y="317.1" width="6" height="6" fill="#838f26"/>
<line x1="45" y1="341.4" x2="60.8" y2="341.4" stroke="#12038e" stroke-width="1.5"/>
<path d="M52.9,338.39 L56.05,344.06 L49.75,344.06 Z" fill="#12038e"/>
<text x="69.31" y="302.7" font-size="12" textLength="23.04" lengthAdjust="spacingAndGlyphs" fill="#000">3-HI</text>
<text x="69.19" y="324.1" font-size="12" textLength="23.17" lengthAdjust="spacingAndGlyphs" fill="#000">6-HI</text>
<text x="69.19" y="345.4" font-size="12" textLength="23.17" lengthAdjust="spacingAndGlyphs" fill="#000">7-HI</text>
<line x1="292.3" y1="316.8" x2="292.3" y2="469" stroke="#000000" stroke-width="1.5"/>
<line x1="286.3" y1="463" x2="439.05" y2="463" stroke="#000000" stroke-width="1.5"/>
<text x="278.33" y="466.9" font-size="11" font-weight="bold" fill="#000">0</text>
<line x1="286.3" y1="437.82" x2="292.3" y2="437.82" stroke="#000000" stroke-width="1.5"/>
<text x="272.06" y="441.73" font-size="11" font-weight="bold" fill="#000">25</text>
<line x1="286.3" y1="412.65" x2="292.3" y2="412.65" stroke="#000000" stroke-width="1.5"/>
<text x="272.23" y="416.55" font-size="11" font-weight="bold" fill="#000">50</text>
<line x1="286.3" y1="387.48" x2="292.3" y2="387.48" stroke="#000000" stroke-width="1.5"/>
<text x="272.06" y="391.38" font-size="11" font-weight="bold" fill="#000">75</text>
<line x1="286.3" y1="362.3" x2="292.3" y2="362.3" stroke="#000000" stroke-width="1.5"/>
<text x="266.12" y="366.2" font-size="11" font-weight="bold" fill="#000">100</text>
<line x1="286.3" y1="337.12" x2="292.3" y2="337.12" stroke="#000000" stroke-width="1.5"/>
<text x="265.96" y="341.03" font-size="11" font-weight="bold" fill="#000">125</text>
<line x1="292.3" y1="463" x2="292.3" y2="469" stroke="#000000" stroke-width="1.5"/>
<text x="282.76" y="481.7" font-size="11" font-weight="bold" fill="#000">-0.5</text>
<line x1="321.5" y1="463" x2="321.5" y2="469" stroke="#000000" stroke-width="1.5"/>
<text x="313.86" y="481.7" font-size="11" font-weight="bold" fill="#000">0.0</text>
<line x1="350.7" y1="463" x2="350.7" y2="469" stroke="#000000" stroke-width="1.5"/>
<text x="342.97" y="481.7" font-size="11" font-weight="bold" fill="#000">0.5</text>
<line x1="379.9" y1="463" x2="379.9" y2="469" stroke="#000000" stroke-width="1.5"/>
<text x="372.12" y="481.7" font-size="11" font-weight="bold" fill="#000">1.0</text>
<line x1="409.1" y1="463" x2="409.1" y2="469" stroke="#000000" stroke-width="1.5"/>
<text x="401.24" y="481.7" font-size="11" font-weight="bold" fill="#000">1.5</text>
<line x1="438.3" y1="463" x2="438.3" y2="469" stroke="#000000" stroke-width="1.5"/>
<text x="430.68" y="481.7" font-size="11" font-weight="bold" fill="#000">2.0</text>
<line x1="306.9" y1="463" x2="306.9" y2="466" stroke="#000000" stroke-width="1.5"/>
<line x1="336.1" y1="463" x2="336.1" y2="466" stroke="#000000" stroke-width="1.5"/>
<line x1="365.3" y1="463" x2="365.3" y2="466" stroke="#000000" stroke-width="1.5"/>
<line x1="394.5" y1="463" x2="394.5" y2="466" stroke="#000000" stroke-width="1.5"/>
<line x1="423.7" y1="463" x2="423.7" y2="466" stroke="#000000" stroke-width="1.5"/>
<text x="323.74" y="498.1" font-size="12" font-weight="bold" textLength="84.1" lengthAdjust="spacingAndGlyphs" fill="#000">log [Dose], µM</text>
<text transform="translate(259,453.82) rotate(-90)" font-size="12" font-weight="bold" textLength="128.1" lengthAdjust="spacingAndGlyphs" fill="#000">Viability (% of control)</text>
<text x="317.2" y="253.2" font-size="12" font-weight="bold" textLength="81.08" lengthAdjust="spacingAndGlyphs" fill="#000">RSL3 (0.5 µM)</text>
<line x1="293.6" y1="412.65" x2="439.6" y2="412.65" stroke="#000000" stroke-width="1.7" stroke-dasharray="5.9 4.35"/>
<line x1="368.22" y1="386.7" x2="368.22" y2="403.6" stroke="#12038e" stroke-width="1.3"/>
<line x1="365.42" y1="386.7" x2="371.02" y2="386.7" stroke="#12038e" stroke-width="1.3"/>
<line x1="365.42" y1="403.6" x2="371.02" y2="403.6" stroke="#12038e" stroke-width="1.3"/>
<line x1="385.74" y1="334.2" x2="385.74" y2="357.2" stroke="#12038e" stroke-width="1.3"/>
<line x1="382.94" y1="334.2" x2="388.54" y2="334.2" stroke="#12038e" stroke-width="1.3"/>
<line x1="382.94" y1="357.2" x2="388.54" y2="357.2" stroke="#12038e" stroke-width="1.3"/>
<line x1="403.26" y1="323.5" x2="403.26" y2="346" stroke="#12038e" stroke-width="1.3"/>
<line x1="400.46" y1="323.5" x2="406.06" y2="323.5" stroke="#12038e" stroke-width="1.3"/>
<line x1="400.46" y1="346" x2="406.06" y2="346" stroke="#12038e" stroke-width="1.3"/>
<line x1="420.78" y1="319.9" x2="420.78" y2="347.5" stroke="#12038e" stroke-width="1.3"/>
<line x1="417.98" y1="319.9" x2="423.58" y2="319.9" stroke="#12038e" stroke-width="1.3"/>
<line x1="417.98" y1="347.5" x2="423.58" y2="347.5" stroke="#12038e" stroke-width="1.3"/>
<polyline points="315.66,456.47 316.54,456.46 317.41,456.45 318.29,456.44 319.16,456.42 320.04,456.41 320.92,456.39 321.79,456.37 322.67,456.34 323.54,456.32 324.42,456.29 325.3,456.26 326.17,456.22 327.05,456.17 327.92,456.13 328.8,456.07 329.68,456.01 330.55,455.94 331.43,455.86 332.3,455.77 333.18,455.67 334.06,455.56 334.93,455.43 335.81,455.29 336.68,455.13 337.56,454.95 338.44,454.74 339.31,454.51 340.19,454.25 341.06,453.96 341.94,453.63 342.82,453.26 343.69,452.85 344.57,452.38 345.44,451.86 346.32,451.28 347.2,450.62 348.07,449.9 348.95,449.08 349.82,448.18 350.7,447.17 351.58,446.06 352.45,444.83 353.33,443.47 354.2,441.97 355.08,440.33 355.96,438.53 356.83,436.57 357.71,434.44 358.58,432.14 359.46,429.66 360.34,427.01 361.21,424.19 362.09,421.19 362.96,418.04 363.84,414.75 364.72,411.32 365.59,407.79 366.47,404.16 367.34,400.48 368.22,396.75 369.1,393.01 369.97,389.3 370.85,385.62 371.72,382.02 372.6,378.51 373.48,375.12 374.35,371.87 375.23,368.76 376.1,365.81 376.98,363.03 377.86,360.43 378.73,358 379.61,355.75 380.48,353.67 381.36,351.75 382.24,350 383.11,348.39 383.99,346.93 384.86,345.61 385.74,344.41 386.62,343.33 387.49,342.35 388.37,341.47 389.24,340.68 390.12,339.98 391,339.35 391.87,338.78 392.75,338.27 393.62,337.82 394.5,337.42 395.38,337.07 396.25,336.75 397.13,336.46 398,336.21 398.88,335.99 399.76,335.79 400.63,335.61 401.51,335.46 402.38,335.32 403.26,335.2 404.14,335.09 405.01,334.99 405.89,334.9 406.76,334.83 407.64,334.76 408.52,334.7 409.39,334.65 410.27,334.6 411.14,334.56 412.02,334.52 412.9,334.49 413.77,334.46 414.65,334.44 415.52,334.41 416.4,334.39 417.28,334.38 418.15,334.36 419.03,334.35 419.9,334.33 420.78,334.32" fill="none" stroke="#12038e" stroke-width="1.5" stroke-linejoin="round"/>
<path d="M315.66,452.64 L318.76,458.22 L312.56,458.22 Z" fill="#12038e"/>
<path d="M333.18,452.64 L336.28,458.22 L330.08,458.22 Z" fill="#12038e"/>
<path d="M350.7,445.54 L353.8,451.12 L347.6,451.12 Z" fill="#12038e"/>
<path d="M368.22,393.04 L371.32,398.62 L365.12,398.62 Z" fill="#12038e"/>
<path d="M385.74,342.74 L388.84,348.32 L382.64,348.32 Z" fill="#12038e"/>
<path d="M403.26,331.84 L406.36,337.42 L400.16,337.42 Z" fill="#12038e"/>
<path d="M420.78,330.84 L423.88,336.42 L417.68,336.42 Z" fill="#12038e"/>
<line x1="368.22" y1="425.2" x2="368.22" y2="438.7" stroke="#838f26" stroke-width="1.3"/>
<line x1="365.42" y1="425.2" x2="371.02" y2="425.2" stroke="#838f26" stroke-width="1.3"/>
<line x1="365.42" y1="438.7" x2="371.02" y2="438.7" stroke="#838f26" stroke-width="1.3"/>
<line x1="385.74" y1="361.5" x2="385.74" y2="373.5" stroke="#838f26" stroke-width="1.3"/>
<line x1="382.94" y1="361.5" x2="388.54" y2="361.5" stroke="#838f26" stroke-width="1.3"/>
<line x1="382.94" y1="373.5" x2="388.54" y2="373.5" stroke="#838f26" stroke-width="1.3"/>
<line x1="403.26" y1="333.8" x2="403.26" y2="347.7" stroke="#838f26" stroke-width="1.3"/>
<line x1="400.46" y1="333.8" x2="406.06" y2="333.8" stroke="#838f26" stroke-width="1.3"/>
<line x1="400.46" y1="347.7" x2="406.06" y2="347.7" stroke="#838f26" stroke-width="1.3"/>
<line x1="420.78" y1="328.8" x2="420.78" y2="347.7" stroke="#838f26" stroke-width="1.3"/>
<line x1="417.98" y1="328.8" x2="423.58" y2="328.8" stroke="#838f26" stroke-width="1.3"/>
<line x1="417.98" y1="347.7" x2="423.58" y2="347.7" stroke="#838f26" stroke-width="1.3"/>
<polyline points="315.66,456.76 316.54,456.75 317.41,456.75 318.29,456.75 319.16,456.74 320.04,456.74 320.92,456.73 321.79,456.73 322.67,456.72 323.54,456.71 324.42,456.7 325.3,456.69 326.17,456.68 327.05,456.67 327.92,456.66 328.8,456.64 329.68,456.62 330.55,456.6 331.43,456.58 332.3,456.56 333.18,456.53 334.06,456.49 334.93,456.46 335.81,456.42 336.68,456.37 337.56,456.32 338.44,456.26 339.31,456.19 340.19,456.11 341.06,456.03 341.94,455.93 342.82,455.83 343.69,455.7 344.57,455.57 345.44,455.41 346.32,455.24 347.2,455.04 348.07,454.82 348.95,454.58 349.82,454.3 350.7,453.99 351.58,453.64 352.45,453.25 353.33,452.81 354.2,452.31 355.08,451.76 355.96,451.15 356.83,450.46 357.71,449.7 358.58,448.85 359.46,447.9 360.34,446.86 361.21,445.7 362.09,444.42 362.96,443.02 363.84,441.48 364.72,439.79 365.59,437.95 366.47,435.95 367.34,433.79 368.22,431.46 369.1,428.97 369.97,426.31 370.85,423.49 371.72,420.51 372.6,417.39 373.48,414.15 374.35,410.78 375.23,407.33 376.1,403.81 376.98,400.24 377.86,396.65 378.73,393.06 379.61,389.51 380.48,386.01 381.36,382.59 382.24,379.28 383.11,376.08 383.99,373.02 384.86,370.11 385.74,367.35 386.62,364.76 387.49,362.34 388.37,360.08 389.24,357.99 390.12,356.06 391,354.28 391.87,352.66 392.75,351.18 393.62,349.82 394.5,348.6 395.38,347.49 396.25,346.49 397.13,345.58 398,344.77 398.88,344.04 399.76,343.38 400.63,342.8 401.51,342.27 402.38,341.8 403.26,341.38 404.14,341.01 405.01,340.68 405.89,340.38 406.76,340.12 407.64,339.88 408.52,339.67 409.39,339.49 410.27,339.32 411.14,339.17 412.02,339.04 412.9,338.93 413.77,338.82 414.65,338.73 415.52,338.65 416.4,338.58 417.28,338.52 418.15,338.46 419.03,338.41 419.9,338.37 420.78,338.33" fill="none" stroke="#838f26" stroke-width="1.5" stroke-linejoin="round"/>
<rect x="312.66" y="453.7" width="6" height="6" fill="#838f26"/>
<rect x="330.18" y="453.7" width="6" height="6" fill="#838f26"/>
<rect x="347.7" y="450.9" width="6" height="6" fill="#838f26"/>
<rect x="365.22" y="428.4" width="6" height="6" fill="#838f26"/>
<rect x="382.74" y="364.5" width="6" height="6" fill="#838f26"/>
<rect x="400.26" y="337.8" width="6" height="6" fill="#838f26"/>
<rect x="417.78" y="335.8" width="6" height="6" fill="#838f26"/>
<line x1="315.66" y1="390.1" x2="315.66" y2="414.4" stroke="#266816" stroke-width="1.3"/>
<line x1="312.86" y1="390.1" x2="318.46" y2="390.1" stroke="#266816" stroke-width="1.3"/>
<line x1="312.86" y1="414.4" x2="318.46" y2="414.4" stroke="#266816" stroke-width="1.3"/>
<line x1="333.18" y1="366" x2="333.18" y2="391.3" stroke="#266816" stroke-width="1.3"/>
<line x1="330.38" y1="366" x2="335.98" y2="366" stroke="#266816" stroke-width="1.3"/>
<line x1="330.38" y1="391.3" x2="335.98" y2="391.3" stroke="#266816" stroke-width="1.3"/>
<line x1="350.7" y1="349.8" x2="350.7" y2="364" stroke="#266816" stroke-width="1.3"/>
<line x1="347.9" y1="349.8" x2="353.5" y2="349.8" stroke="#266816" stroke-width="1.3"/>
<line x1="347.9" y1="364" x2="353.5" y2="364" stroke="#266816" stroke-width="1.3"/>
<line x1="368.22" y1="352.7" x2="368.22" y2="369.2" stroke="#266816" stroke-width="1.3"/>
<line x1="365.42" y1="352.7" x2="371.02" y2="352.7" stroke="#266816" stroke-width="1.3"/>
<line x1="365.42" y1="369.2" x2="371.02" y2="369.2" stroke="#266816" stroke-width="1.3"/>
<line x1="385.74" y1="352.7" x2="385.74" y2="373.1" stroke="#266816" stroke-width="1.3"/>
<line x1="382.94" y1="352.7" x2="388.54" y2="352.7" stroke="#266816" stroke-width="1.3"/>
<line x1="382.94" y1="373.1" x2="388.54" y2="373.1" stroke="#266816" stroke-width="1.3"/>
<line x1="403.26" y1="345.3" x2="403.26" y2="367.9" stroke="#266816" stroke-width="1.3"/>
<line x1="400.46" y1="345.3" x2="406.06" y2="345.3" stroke="#266816" stroke-width="1.3"/>
<line x1="400.46" y1="367.9" x2="406.06" y2="367.9" stroke="#266816" stroke-width="1.3"/>
<line x1="420.78" y1="352" x2="420.78" y2="377.9" stroke="#266816" stroke-width="1.3"/>
<line x1="417.98" y1="352" x2="423.58" y2="352" stroke="#266816" stroke-width="1.3"/>
<line x1="417.98" y1="377.9" x2="423.58" y2="377.9" stroke="#266816" stroke-width="1.3"/>
<polyline points="315.66,401.9 316.01,401.9 316.36,401.9 316.71,401.9 317.06,401.9 317.41,401.9 317.76,401.9 318.11,401.9 318.46,401.9 318.81,401.9 319.16,401.9 319.51,401.9 319.86,401.9 320.22,401.9 320.57,401.9 320.92,401.9 321.27,401.9 321.62,401.9 321.97,401.9 322.32,401.9 322.67,401.9 323.02,401.9 323.37,401.9 323.72,401.9 324.07,401.89 324.42,401.89 324.77,401.89 325.12,401.89 325.47,401.88 325.82,401.87 326.17,401.86 326.52,401.84 326.87,401.81 327.22,401.78 327.57,401.72 327.92,401.65 328.27,401.54 328.62,401.38 328.98,401.17 329.33,400.86 329.68,400.43 330.03,399.83 330.38,399.01 330.73,397.89 331.08,396.39 331.43,394.46 331.78,392.03 332.13,389.11 332.48,385.77 332.83,382.16 333.18,378.5 333.53,375.01 333.88,371.88 334.23,369.22 334.58,367.06 334.93,365.37 335.28,364.09 335.63,363.14 335.98,362.44 336.33,361.94 336.68,361.58 337.03,361.33 337.38,361.15 337.74,361.02 338.09,360.93 338.44,360.87 338.79,360.82 339.14,360.79 339.49,360.77 339.84,360.76 340.19,360.74 340.54,360.74 340.89,360.73 341.24,360.73 341.59,360.73 341.94,360.72 342.29,360.72 342.64,360.72 342.99,360.72 343.34,360.72 343.69,360.72 344.04,360.72 344.39,360.72 344.74,360.72 345.09,360.72 345.44,360.72 345.79,360.72 346.14,360.72 346.5,360.72 346.85,360.72 347.2,360.72 347.55,360.72 347.9,360.72 348.25,360.72 348.6,360.72 348.95,360.72 349.3,360.72 349.65,360.72 350,360.72 350.35,360.72 350.7,360.72 351.05,360.72 351.4,360.72 351.75,360.72 352.1,360.72 352.45,360.72 352.8,360.72 353.15,360.72 353.5,360.72 353.85,360.72 354.2,360.72 354.55,360.72 354.9,360.72 355.26,360.72 355.61,360.72 355.96,360.72 356.31,360.72 356.66,360.72 357.01,360.72 357.36,360.72 357.71,360.72 358.06,360.72 358.41,360.72 358.76,360.72 359.11,360.72 359.46,360.72 359.81,360.72 360.16,360.72 360.51,360.72 360.86,360.72 361.21,360.72 361.56,360.72 361.91,360.72 362.26,360.72 362.61,360.72 362.96,360.72 363.31,360.72 363.66,360.72 364.02,360.72 364.37,360.72 364.72,360.72 365.07,360.72 365.42,360.72 365.77,360.72 366.12,360.72 366.47,360.72 366.82,360.72 367.17,360.72 367.52,360.72 367.87,360.72 368.22,360.72 368.57,360.72 368.92,360.72 369.27,360.72 369.62,360.72 369.97,360.72 370.32,360.72 370.67,360.72 371.02,360.72 371.37,360.72 371.72,360.72 372.07,360.72 372.42,360.72 372.78,360.72 373.13,360.72 373.48,360.72 373.83,360.72 374.18,360.72 374.53,360.72 374.88,360.72 375.23,360.72 375.58,360.72 375.93,360.72 376.28,360.72 376.63,360.72 376.98,360.72 377.33,360.72 377.68,360.72 378.03,360.72 378.38,360.72 378.73,360.72 379.08,360.72 379.43,360.72 379.78,360.72 380.13,360.72 380.48,360.72 380.83,360.72 381.18,360.72 381.54,360.72 381.89,360.72 382.24,360.72 382.59,360.72 382.94,360.72 383.29,360.72 383.64,360.72 383.99,360.72 384.34,360.72 384.69,360.72 385.04,360.72 385.39,360.72 385.74,360.72 386.09,360.72 386.44,360.72 386.79,360.72 387.14,360.72 387.49,360.72 387.84,360.72 388.19,360.72 388.54,360.72 388.89,360.72 389.24,360.72 389.59,360.72 389.94,360.72 390.3,360.72 390.65,360.72 391,360.72 391.35,360.72 391.7,360.72 392.05,360.72 392.4,360.72 392.75,360.72 393.1,360.72 393.45,360.72 393.8,360.72 394.15,360.72 394.5,360.72 394.85,360.72 395.2,360.72 395.55,360.72 395.9,360.72 396.25,360.72 396.6,360.72 396.95,360.72 397.3,360.72 397.65,360.72 398,360.72 398.35,360.72 398.7,360.72 399.06,360.72 399.41,360.72 399.76,360.72 400.11,360.72 400.46,360.72 400.81,360.72 401.16,360.72 401.51,360.72 401.86,360.72 402.21,360.72 402.56,360.72 402.91,360.72 403.26,360.72 403.61,360.72 403.96,360.72 404.31,360.72 404.66,360.72 405.01,360.72 405.36,360.72 405.71,360.72 406.06,360.72 406.41,360.72 406.76,360.72 407.11,360.72 407.46,360.72 407.82,360.72 408.17,360.72 408.52,360.72 408.87,360.72 409.22,360.72 409.57,360.72 409.92,360.72 410.27,360.72 410.62,360.72 410.97,360.72 411.32,360.72 411.67,360.72 412.02,360.72 412.37,360.72 412.72,360.72 413.07,360.72 413.42,360.72 413.77,360.72 414.12,360.72 414.47,360.72 414.82,360.72 415.17,360.72 415.52,360.72 415.87,360.72 416.22,360.72 416.58,360.72 416.93,360.72 417.28,360.72 417.63,360.72 417.98,360.72 418.33,360.72 418.68,360.72 419.03,360.72 419.38,360.72 419.73,360.72 420.08,360.72 420.43,360.72 420.78,360.72" fill="none" stroke="#266816" stroke-width="1.5" stroke-linejoin="round"/>
<circle cx="315.66" cy="401.9" r="3.1" fill="#266816"/>
<circle cx="333.18" cy="378.5" r="3.1" fill="#266816"/>
<circle cx="350.7" cy="356.7" r="3.1" fill="#266816"/>
<circle cx="368.22" cy="361.3" r="3.1" fill="#266816"/>
<circle cx="385.74" cy="363.2" r="3.1" fill="#266816"/>
<circle cx="403.26" cy="357.2" r="3.1" fill="#266816"/>
<circle cx="420.78" cy="365.2" r="3.1" fill="#266816"/>
<line x1="294.8" y1="268.6" x2="310.5" y2="268.6" stroke="#266816" stroke-width="1.5"/>
<circle cx="302.65" cy="268.6" r="3" fill="#266816"/>
<line x1="294.8" y1="289.7" x2="310.5" y2="289.7" stroke="#838f26" stroke-width="1.5"/>
<rect x="299.65" y="286.7" width="6" height="6" fill="#838f26"/>
<line x1="294.8" y1="310.7" x2="310.5" y2="310.7" stroke="#12038e" stroke-width="1.5"/>
<path d="M302.65,307.69 L305.8,313.36 L299.5,313.36 Z" fill="#12038e"/>
<text x="319.22" y="272.2" font-size="12" fill="#000">3-HI [EC</text>
<text x="365.62" y="274" font-size="9.5" fill="#000">50</text>
<text x="375.7" y="272.2" font-size="12" fill="#000">=1.5 µM]</text>
<text x="319.1" y="293.3" font-size="12" fill="#000">6-HI [EC</text>
<text x="365.62" y="295.1" font-size="9.5" fill="#000">50</text>
<text x="375.7" y="293.3" font-size="12" fill="#000">=9.1 µM]</text>
<text x="319.1" y="314.3" font-size="12" fill="#000">7-HI [EC</text>
<text x="365.62" y="316.1" font-size="9.5" fill="#000">50</text>
<text x="375.7" y="314.3" font-size="12" fill="#000">=6.3 µM]</text>
<line x1="528.1" y1="318.6" x2="528.1" y2="470.7" stroke="#000000" stroke-width="1.5"/>
<line x1="522.1" y1="464.7" x2="675.25" y2="464.7" stroke="#000000" stroke-width="1.5"/>
<text x="514.23" y="468.6" font-size="11" font-weight="bold" fill="#000">0</text>
<line x1="522.1" y1="435.48" x2="528.1" y2="435.48" stroke="#000000" stroke-width="1.5"/>
<text x="507.96" y="439.38" font-size="11" font-weight="bold" fill="#000">25</text>
<line x1="522.1" y1="406.26" x2="528.1" y2="406.26" stroke="#000000" stroke-width="1.5"/>
<text x="508.13" y="410.16" font-size="11" font-weight="bold" fill="#000">50</text>
<line x1="522.1" y1="377.04" x2="528.1" y2="377.04" stroke="#000000" stroke-width="1.5"/>
<text x="507.96" y="380.94" font-size="11" font-weight="bold" fill="#000">75</text>
<line x1="522.1" y1="347.82" x2="528.1" y2="347.82" stroke="#000000" stroke-width="1.5"/>
<text x="502.02" y="351.72" font-size="11" font-weight="bold" fill="#000">100</text>
<line x1="522.1" y1="318.6" x2="528.1" y2="318.6" stroke="#000000" stroke-width="1.5"/>
<text x="501.86" y="322.5" font-size="11" font-weight="bold" fill="#000">125</text>
<line x1="528.1" y1="464.7" x2="528.1" y2="470.7" stroke="#000000" stroke-width="1.5"/>
<text x="520.45" y="482.8" font-size="11" font-weight="bold" fill="#000">0.0</text>
<line x1="564.7" y1="464.7" x2="564.7" y2="470.7" stroke="#000000" stroke-width="1.5"/>
<text x="556.97" y="482.8" font-size="11" font-weight="bold" fill="#000">0.5</text>
<line x1="601.3" y1="464.7" x2="601.3" y2="470.7" stroke="#000000" stroke-width="1.5"/>
<text x="593.52" y="482.8" font-size="11" font-weight="bold" fill="#000">1.0</text>
<line x1="637.9" y1="464.7" x2="637.9" y2="470.7" stroke="#000000" stroke-width="1.5"/>
<text x="630.04" y="482.8" font-size="11" font-weight="bold" fill="#000">1.5</text>
<line x1="674.5" y1="464.7" x2="674.5" y2="470.7" stroke="#000000" stroke-width="1.5"/>
<text x="666.88" y="482.8" font-size="11" font-weight="bold" fill="#000">2.0</text>
<line x1="546.4" y1="464.7" x2="546.4" y2="467.7" stroke="#000000" stroke-width="1.5"/>
<line x1="583" y1="464.7" x2="583" y2="467.7" stroke="#000000" stroke-width="1.5"/>
<line x1="619.6" y1="464.7" x2="619.6" y2="467.7" stroke="#000000" stroke-width="1.5"/>
<line x1="656.2" y1="464.7" x2="656.2" y2="467.7" stroke="#000000" stroke-width="1.5"/>
<text x="559.14" y="499.7" font-size="12" font-weight="bold" textLength="84.1" lengthAdjust="spacingAndGlyphs" fill="#000">log [Dose], µM</text>
<text transform="translate(494.2,455.12) rotate(-90)" font-size="12" font-weight="bold" textLength="128" lengthAdjust="spacingAndGlyphs" fill="#000">Viability (% of control)</text>
<text x="563.11" y="273.8" font-size="12" font-weight="bold" textLength="81.78" lengthAdjust="spacingAndGlyphs" fill="#000">FINO2 (10 µM)</text>
<line x1="529.4" y1="406.26" x2="675.8" y2="406.26" stroke="#000000" stroke-width="1.7" stroke-dasharray="5.9 4.35"/>
<line x1="542.74" y1="434" x2="542.74" y2="447.6" stroke="#12038e" stroke-width="1.3"/>
<line x1="539.94" y1="434" x2="545.54" y2="434" stroke="#12038e" stroke-width="1.3"/>
<line x1="539.94" y1="447.6" x2="545.54" y2="447.6" stroke="#12038e" stroke-width="1.3"/>
<line x1="564.7" y1="425" x2="564.7" y2="444" stroke="#12038e" stroke-width="1.3"/>
<line x1="561.9" y1="425" x2="567.5" y2="425" stroke="#12038e" stroke-width="1.3"/>
<line x1="561.9" y1="444" x2="567.5" y2="444" stroke="#12038e" stroke-width="1.3"/>
<line x1="586.66" y1="413.5" x2="586.66" y2="429.8" stroke="#12038e" stroke-width="1.3"/>
<line x1="583.86" y1="413.5" x2="589.46" y2="413.5" stroke="#12038e" stroke-width="1.3"/>
<line x1="583.86" y1="429.8" x2="589.46" y2="429.8" stroke="#12038e" stroke-width="1.3"/>
<line x1="608.62" y1="399.8" x2="608.62" y2="412.5" stroke="#12038e" stroke-width="1.3"/>
<line x1="605.82" y1="399.8" x2="611.42" y2="399.8" stroke="#12038e" stroke-width="1.3"/>
<line x1="605.82" y1="412.5" x2="611.42" y2="412.5" stroke="#12038e" stroke-width="1.3"/>
<line x1="630.58" y1="390.5" x2="630.58" y2="401" stroke="#12038e" stroke-width="1.3"/>
<line x1="627.78" y1="390.5" x2="633.38" y2="390.5" stroke="#12038e" stroke-width="1.3"/>
<line x1="627.78" y1="401" x2="633.38" y2="401" stroke="#12038e" stroke-width="1.3"/>
<line x1="652.54" y1="384.7" x2="652.54" y2="396" stroke="#12038e" stroke-width="1.3"/>
<line x1="649.74" y1="384.7" x2="655.34" y2="384.7" stroke="#12038e" stroke-width="1.3"/>
<line x1="649.74" y1="396" x2="655.34" y2="396" stroke="#12038e" stroke-width="1.3"/>
<polyline points="542.74,441 543.65,440.83 544.57,440.65 545.49,440.47 546.4,440.27 547.32,440.07 548.23,439.87 549.14,439.65 550.06,439.43 550.98,439.19 551.89,438.95 552.81,438.7 553.72,438.44 554.63,438.17 555.55,437.89 556.47,437.6 557.38,437.29 558.3,436.98 559.21,436.66 560.12,436.33 561.04,435.98 561.96,435.62 562.87,435.26 563.79,434.88 564.7,434.48 565.62,434.08 566.53,433.67 567.45,433.24 568.36,432.8 569.27,432.35 570.19,431.88 571.11,431.41 572.02,430.92 572.94,430.42 573.85,429.91 574.76,429.38 575.68,428.85 576.6,428.3 577.51,427.75 578.43,427.18 579.34,426.6 580.25,426.01 581.17,425.42 582.09,424.81 583,424.19 583.91,423.57 584.83,422.94 585.75,422.3 586.66,421.66 587.58,421.01 588.49,420.35 589.4,419.69 590.32,419.03 591.24,418.37 592.15,417.7 593.07,417.03 593.98,416.36 594.89,415.69 595.81,415.02 596.73,414.35 597.64,413.68 598.56,413.02 599.47,412.36 600.38,411.7 601.3,411.05 602.22,410.4 603.13,409.76 604.05,409.13 604.96,408.51 605.88,407.89 606.79,407.28 607.71,406.68 608.62,406.09 609.54,405.51 610.45,404.94 611.37,404.38 612.28,403.83 613.2,403.29 614.11,402.77 615.02,402.25 615.94,401.75 616.86,401.26 617.77,400.78 618.69,400.31 619.6,399.86 620.51,399.42 621.43,398.98 622.35,398.57 623.26,398.16 624.18,397.77 625.09,397.38 626,397.01 626.92,396.65 627.84,396.3 628.75,395.97 629.66,395.64 630.58,395.33 631.5,395.02 632.41,394.73 633.33,394.45 634.24,394.17 635.15,393.91 636.07,393.66 636.99,393.41 637.9,393.18 638.82,392.95 639.73,392.73 640.64,392.52 641.56,392.32 642.48,392.13 643.39,391.94 644.31,391.76 645.22,391.59 646.13,391.42 647.05,391.26 647.97,391.11 648.88,390.97 649.8,390.83 650.71,390.69 651.62,390.56 652.54,390.44" fill="none" stroke="#12038e" stroke-width="1.5" stroke-linejoin="round"/>
<path d="M542.74,438.04 L545.84,443.62 L539.64,443.62 Z" fill="#12038e"/>
<path d="M564.7,431.54 L567.8,437.12 L561.6,437.12 Z" fill="#12038e"/>
<path d="M586.66,418.64 L589.76,424.22 L583.56,424.22 Z" fill="#12038e"/>
<path d="M608.62,403.24 L611.72,408.82 L605.52,408.82 Z" fill="#12038e"/>
<path d="M630.58,392.24 L633.68,397.82 L627.48,397.82 Z" fill="#12038e"/>
<path d="M652.54,387.54 L655.64,393.12 L649.44,393.12 Z" fill="#12038e"/>
<line x1="542.74" y1="434.6" x2="542.74" y2="449.2" stroke="#838f26" stroke-width="1.3"/>
<line x1="539.94" y1="434.6" x2="545.54" y2="434.6" stroke="#838f26" stroke-width="1.3"/>
<line x1="539.94" y1="449.2" x2="545.54" y2="449.2" stroke="#838f26" stroke-width="1.3"/>
<line x1="564.7" y1="426.2" x2="564.7" y2="444.8" stroke="#838f26" stroke-width="1.3"/>
<line x1="561.9" y1="426.2" x2="567.5" y2="426.2" stroke="#838f26" stroke-width="1.3"/>
<line x1="561.9" y1="444.8" x2="567.5" y2="444.8" stroke="#838f26" stroke-width="1.3"/>
<line x1="586.66" y1="414.4" x2="586.66" y2="435.4" stroke="#838f26" stroke-width="1.3"/>
<line x1="583.86" y1="414.4" x2="589.46" y2="414.4" stroke="#838f26" stroke-width="1.3"/>
<line x1="583.86" y1="435.4" x2="589.46" y2="435.4" stroke="#838f26" stroke-width="1.3"/>
<line x1="608.62" y1="408.3" x2="608.62" y2="425.3" stroke="#838f26" stroke-width="1.3"/>
<line x1="605.82" y1="408.3" x2="611.42" y2="408.3" stroke="#838f26" stroke-width="1.3"/>
<line x1="605.82" y1="425.3" x2="611.42" y2="425.3" stroke="#838f26" stroke-width="1.3"/>
<line x1="630.58" y1="398" x2="630.58" y2="413.5" stroke="#838f26" stroke-width="1.3"/>
<line x1="627.78" y1="398" x2="633.38" y2="398" stroke="#838f26" stroke-width="1.3"/>
<line x1="627.78" y1="413.5" x2="633.38" y2="413.5" stroke="#838f26" stroke-width="1.3"/>
<line x1="652.54" y1="394.4" x2="652.54" y2="408.3" stroke="#838f26" stroke-width="1.3"/>
<line x1="649.74" y1="394.4" x2="655.34" y2="394.4" stroke="#838f26" stroke-width="1.3"/>
<line x1="649.74" y1="408.3" x2="655.34" y2="408.3" stroke="#838f26" stroke-width="1.3"/>
<polyline points="542.74,442.07 543.65,441.85 544.57,441.63 545.49,441.4 546.4,441.17 547.32,440.93 548.23,440.69 549.14,440.44 550.06,440.19 550.98,439.93 551.89,439.66 552.81,439.39 553.72,439.12 554.63,438.84 555.55,438.55 556.47,438.26 557.38,437.96 558.3,437.65 559.21,437.34 560.12,437.03 561.04,436.71 561.96,436.38 562.87,436.05 563.79,435.71 564.7,435.37 565.62,435.02 566.53,434.66 567.45,434.3 568.36,433.94 569.27,433.57 570.19,433.2 571.11,432.82 572.02,432.43 572.94,432.04 573.85,431.65 574.76,431.25 575.68,430.85 576.6,430.44 577.51,430.03 578.43,429.62 579.34,429.2 580.25,428.78 581.17,428.36 582.09,427.93 583,427.5 583.91,427.07 584.83,426.63 585.75,426.2 586.66,425.76 587.58,425.32 588.49,424.88 589.4,424.43 590.32,423.99 591.24,423.54 592.15,423.1 593.07,422.65 593.98,422.21 594.89,421.76 595.81,421.32 596.73,420.87 597.64,420.43 598.56,419.99 599.47,419.55 600.38,419.11 601.3,418.67 602.22,418.24 603.13,417.8 604.05,417.37 604.96,416.95 605.88,416.52 606.79,416.1 607.71,415.68 608.62,415.27 609.54,414.86 610.45,414.45 611.37,414.05 612.28,413.65 613.2,413.26 614.11,412.87 615.02,412.48 615.94,412.1 616.86,411.73 617.77,411.36 618.69,410.99 619.6,410.63 620.51,410.28 621.43,409.93 622.35,409.58 623.26,409.24 624.18,408.91 625.09,408.58 626,408.26 626.92,407.94 627.84,407.63 628.75,407.33 629.66,407.03 630.58,406.74 631.5,406.45 632.41,406.16 633.33,405.89 634.24,405.62 635.15,405.35 636.07,405.09 636.99,404.84 637.9,404.59 638.82,404.34 639.73,404.11 640.64,403.87 641.56,403.65 642.48,403.42 643.39,403.21 644.31,403 645.22,402.79 646.13,402.59 647.05,402.39 647.97,402.2 648.88,402.01 649.8,401.83 650.71,401.65 651.62,401.48 652.54,401.31" fill="none" stroke="#838f26" stroke-width="1.5" stroke-linejoin="round"/>
<rect x="539.74" y="439" width="6" height="6" fill="#838f26"/>
<rect x="561.7" y="432.7" width="6" height="6" fill="#838f26"/>
<rect x="583.66" y="422" width="6" height="6" fill="#838f26"/>
<rect x="605.62" y="413.3" width="6" height="6" fill="#838f26"/>
<rect x="627.58" y="402.9" width="6" height="6" fill="#838f26"/>
<rect x="649.54" y="398.6" width="6" height="6" fill="#838f26"/>
<line x1="542.74" y1="409.2" x2="542.74" y2="426.7" stroke="#266816" stroke-width="1.3"/>
<line x1="539.94" y1="409.2" x2="545.54" y2="409.2" stroke="#266816" stroke-width="1.3"/>
<line x1="539.94" y1="426.7" x2="545.54" y2="426.7" stroke="#266816" stroke-width="1.3"/>
<line x1="564.7" y1="388.4" x2="564.7" y2="408" stroke="#266816" stroke-width="1.3"/>
<line x1="561.9" y1="388.4" x2="567.5" y2="388.4" stroke="#266816" stroke-width="1.3"/>
<line x1="561.9" y1="408" x2="567.5" y2="408" stroke="#266816" stroke-width="1.3"/>
<line x1="586.66" y1="372.3" x2="586.66" y2="387.9" stroke="#266816" stroke-width="1.3"/>
<line x1="583.86" y1="372.3" x2="589.46" y2="372.3" stroke="#266816" stroke-width="1.3"/>
<line x1="583.86" y1="387.9" x2="589.46" y2="387.9" stroke="#266816" stroke-width="1.3"/>
<line x1="608.62" y1="366" x2="608.62" y2="378.6" stroke="#266816" stroke-width="1.3"/>
<line x1="605.82" y1="366" x2="611.42" y2="366" stroke="#266816" stroke-width="1.3"/>
<line x1="605.82" y1="378.6" x2="611.42" y2="378.6" stroke="#266816" stroke-width="1.3"/>
<line x1="630.58" y1="358" x2="630.58" y2="371.8" stroke="#266816" stroke-width="1.3"/>
<line x1="627.78" y1="358" x2="633.38" y2="358" stroke="#266816" stroke-width="1.3"/>
<line x1="627.78" y1="371.8" x2="633.38" y2="371.8" stroke="#266816" stroke-width="1.3"/>
<line x1="652.54" y1="355.9" x2="652.54" y2="370" stroke="#266816" stroke-width="1.3"/>
<line x1="649.74" y1="355.9" x2="655.34" y2="355.9" stroke="#266816" stroke-width="1.3"/>
<line x1="649.74" y1="370" x2="655.34" y2="370" stroke="#266816" stroke-width="1.3"/>
<polyline points="542.74,418 543.65,417.15 544.57,416.3 545.49,415.45 546.4,414.59 547.32,413.73 548.23,412.88 549.14,412.02 550.06,411.16 550.98,410.29 551.89,409.43 552.81,408.58 553.72,407.72 554.63,406.86 555.55,406.01 556.47,405.16 557.38,404.31 558.3,403.47 559.21,402.63 560.12,401.8 561.04,400.97 561.96,400.14 562.87,399.33 563.79,398.52 564.7,397.71 565.62,396.92 566.53,396.13 567.45,395.35 568.36,394.58 569.27,393.81 570.19,393.06 571.11,392.31 572.02,391.58 572.94,390.85 573.85,390.13 574.76,389.43 575.68,388.73 576.6,388.05 577.51,387.37 578.43,386.71 579.34,386.05 580.25,385.41 581.17,384.78 582.09,384.16 583,383.55 583.91,382.96 584.83,382.37 585.75,381.8 586.66,381.23 587.58,380.68 588.49,380.14 589.4,379.61 590.32,379.09 591.24,378.58 592.15,378.09 593.07,377.6 593.98,377.13 594.89,376.67 595.81,376.21 596.73,375.77 597.64,375.34 598.56,374.92 599.47,374.51 600.38,374.11 601.3,373.72 602.22,373.34 603.13,372.97 604.05,372.6 604.96,372.25 605.88,371.91 606.79,371.57 607.71,371.25 608.62,370.93 609.54,370.62 610.45,370.32 611.37,370.03 612.28,369.75 613.2,369.47 614.11,369.2 615.02,368.94 615.94,368.69 616.86,368.44 617.77,368.21 618.69,367.97 619.6,367.75 620.51,367.53 621.43,367.32 622.35,367.11 623.26,366.91 624.18,366.72 625.09,366.53 626,366.35 626.92,366.17 627.84,366 628.75,365.83 629.66,365.67 630.58,365.51 631.5,365.36 632.41,365.21 633.33,365.07 634.24,364.93 635.15,364.8 636.07,364.67 636.99,364.54 637.9,364.42 638.82,364.3 639.73,364.19 640.64,364.07 641.56,363.97 642.48,363.86 643.39,363.76 644.31,363.66 645.22,363.57 646.13,363.48 647.05,363.39 647.97,363.3 648.88,363.22 649.8,363.14 650.71,363.06 651.62,362.99 652.54,362.92" fill="none" stroke="#266816" stroke-width="1.5" stroke-linejoin="round"/>
<circle cx="542.74" cy="417.9" r="3.1" fill="#266816"/>
<circle cx="564.7" cy="398.2" r="3.1" fill="#266816"/>
<circle cx="586.66" cy="380.1" r="3.1" fill="#266816"/>
<circle cx="608.62" cy="372.3" r="3.1" fill="#266816"/>
<circle cx="630.58" cy="364.8" r="3.1" fill="#266816"/>
<circle cx="652.54" cy="363" r="3.1" fill="#266816"/>
<line x1="530.6" y1="290.7" x2="546" y2="290.7" stroke="#266816" stroke-width="1.5"/>
<circle cx="538.3" cy="290.7" r="3" fill="#266816"/>
<line x1="530.6" y1="311.7" x2="546" y2="311.7" stroke="#838f26" stroke-width="1.5"/>
<rect x="535.3" y="308.7" width="6" height="6" fill="#838f26"/>
<line x1="530.6" y1="333.4" x2="546" y2="333.4" stroke="#12038e" stroke-width="1.5"/>
<path d="M538.3,330.39 L541.45,336.06 L535.15,336.06 Z" fill="#12038e"/>
<text x="554.52" y="294.5" font-size="12" fill="#000">3-HI [EC</text>
<text x="601.32" y="296.3" font-size="9.5" fill="#000">50</text>
<text x="611.8" y="294.5" font-size="12" fill="#000">=2.2 µM]</text>
<text x="554.4" y="315.5" font-size="12" fill="#000">6-HI [EC</text>
<text x="601.32" y="317.3" font-size="9.5" fill="#000">50</text>
<text x="611.8" y="315.5" font-size="12" fill="#000">=8.1 µM]</text>
<text x="554.4" y="337.2" font-size="12" fill="#000">7-HI [EC</text>
<text x="601.32" y="339" font-size="9.5" fill="#000">50</text>
<text x="611.8" y="337.2" font-size="12" fill="#000">=7.9 µM]</text>
</svg>
</body></html>
